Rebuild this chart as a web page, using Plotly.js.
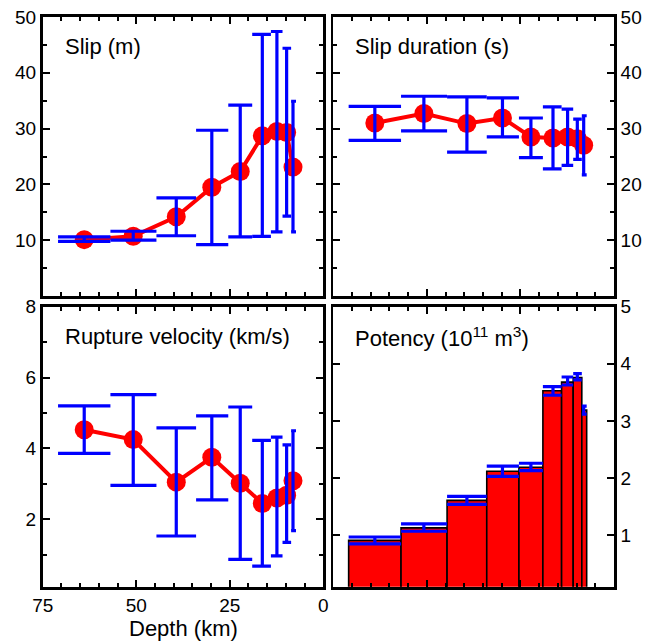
<!DOCTYPE html>
<html>
<head>
<meta charset="utf-8">
<script src="https://cdn.plot.ly/plotly-3.0.1.min.js"></script>
<style>
html,body{margin:0;padding:0;background:#fff;}
#chart{width:648px;height:643px;}
</style>
</head>
<body>
<div id="chart"></div>
<script>
// Depth of each subfault centre (km) and the bin edges (km)
const depthCenters = [63.9, 50.8, 39.3, 29.8, 22.2, 16.3, 12.4, 9.8, 8.1];
const binEdges = [70.9, 56.9, 44.6, 34.0, 25.4, 19.0, 14.0, 10.9, 8.6, 7.3];

// Slip (m)
const slip = [10.1, 10.7, 14.2, 19.5, 22.3, 28.7, 29.5, 29.3, 23.1];
const slipHi = [10.6, 11.6, 17.6, 29.7, 34.2, 46.9, 47.4, 44.4, 34.9];
const slipLo = [9.8, 10.0, 10.8, 9.2, 10.6, 10.7, 11.5, 14.3, 11.5];

// Slip duration (s)
const duration = [31.0, 32.7, 30.9, 31.9, 28.5, 28.3, 28.5, 28.2, 27.0];
const durationHi = [34.0, 35.8, 35.7, 35.5, 31.9, 33.9, 33.5, 31.7, 32.3];
const durationLo = [27.9, 29.6, 25.8, 28.5, 24.8, 22.8, 23.4, 24.5, 21.7];

// Rupture velocity (km/s)
const vr = [4.53, 4.25, 3.05, 3.75, 3.02, 2.45, 2.60, 2.68, 3.09];
const vrHi = [5.20, 5.52, 4.58, 4.92, 5.17, 4.23, 4.32, 4.10, 4.50];
const vrLo = [3.86, 2.96, 1.53, 2.55, 0.87, 0.68, 0.97, 1.35, 1.68];

// Potency (10^11 m^3)
const potency = [0.91, 1.13, 1.61, 2.12, 2.19, 3.53, 3.68, 3.76, 3.19];
const potencyHi = [0.97, 1.20, 1.68, 2.21, 2.26, 3.60, 3.77, 3.83, 3.26];
const potencyLo = [0.85, 1.07, 1.54, 2.03, 2.13, 3.45, 3.63, 3.72, 3.12];

// Tick labels
const depthTicks = [75, 50, 25, 0];
const slipTicks = [10, 20, 30, 40, 50];
const vrTicks = [2, 4, 6, 8];
const potencyTicks = [1, 2, 3, 4, 5];

const RED = '#ff0000';
const BLUE = '#0000ff';
const FONT = 'Liberation Sans, Arial, Helvetica, sans-serif';

// error bars whose caps span each bin
function errorTrace(hi, lo, xa, ya, w) {
  const xs = [], ys = [];
  for (let i = 0; i < hi.length; i++) {
    const a = binEdges[i], b = binEdges[i + 1], c = depthCenters[i];
    xs.push(a, b, null, c, c, null, a, b, null);
    ys.push(hi[i], hi[i], null, hi[i], lo[i], null, lo[i], lo[i], null);
  }
  return {x: xs, y: ys, xaxis: xa, yaxis: ya, type: 'scatter', mode: 'lines',
    line: {color: BLUE, width: w || 3.2}, hoverinfo: 'skip', showlegend: false};
}
function seriesTrace(vals, xa, ya) {
  return {x: depthCenters, y: vals, xaxis: xa, yaxis: ya, type: 'scatter', mode: 'lines+markers',
    line: {color: RED, width: 4}, marker: {color: RED, size: 19}, showlegend: false};
}
const barX = [], barW = [];
for (let i = 0; i < potency.length; i++) {
  barX.push((binEdges[i] + binEdges[i + 1]) / 2);
  barW.push(binEdges[i] - binEdges[i + 1]);
}

const data = [
  seriesTrace(slip, 'x', 'y'),
  errorTrace(slipHi, slipLo, 'x', 'y'),
  seriesTrace(duration, 'x2', 'y2'),
  errorTrace(durationHi, durationLo, 'x2', 'y2'),
  seriesTrace(vr, 'x3', 'y3'),
  errorTrace(vrHi, vrLo, 'x3', 'y3'),
  {x: barX, y: potency, width: barW, xaxis: 'x4', yaxis: 'y4', type: 'bar',
   marker: {color: RED, line: {color: '#000', width: 1.6}}, showlegend: false},
  errorTrace(potencyHi, potencyLo, 'x4', 'y4', 3.2)
];

const W = 648, H = 643;
const xdL = [42.7 / W, 323.3 / W], xdR = [333.3 / W, 614 / W];
const ydT = [(H - 296) / H, (H - 17) / H], ydB = [(H - 586.7) / H, (H - 306.7) / H];

function xax(domain, anchor, labels) {
  return {domain: domain, anchor: anchor, range: [75, 0], autorange: false,
    tickmode: 'array', tickvals: depthTicks, ticktext: depthTicks.map(String),
    showticklabels: labels, ticks: 'inside', ticklen: 7, tickwidth: 2, tickcolor: '#000',
    minor: {dtick: 5, tick0: 0, ticks: 'inside', ticklen: 4, tickwidth: 2, tickcolor: '#000'},
    showline: true, mirror: 'ticks', linewidth: 2.8, linecolor: '#000',
    showgrid: false, zeroline: false,
    tickfont: {family: FONT, size: 19, color: '#000'}};
}
function yax(domain, anchor, range, ticks, minor, side) {
  const o = {domain: domain, anchor: anchor, range: range, autorange: false, side: side,
    tickmode: 'array', tickvals: ticks, ticktext: ticks.map(String),
    ticks: 'inside', ticklen: 7, tickwidth: 2, tickcolor: '#000',
    showline: true, mirror: 'ticks', linewidth: 2.8, linecolor: '#000',
    showgrid: false, zeroline: false,
    tickfont: {family: FONT, size: 19, color: '#000'}};
  if (minor) o.minor = {dtick: minor, tick0: 0, ticks: 'inside', ticklen: 4, tickwidth: 2, tickcolor: '#000'};
  return o;
}
function panelTitle(text, xref, yref) {
  return {text: text, xref: xref + ' domain', yref: yref + ' domain', x: 0.071, y: 0.893,
    xanchor: 'left', yanchor: 'middle', showarrow: false,
    font: {family: FONT, size: 22, color: '#000'}};
}

const layout = {
  width: W, height: H, margin: {l: 0, r: 0, t: 0, b: 0},
  paper_bgcolor: '#fff', plot_bgcolor: '#fff', showlegend: false, bargap: 0,
  xaxis: xax(xdL, 'y', false),
  yaxis: yax(ydT, 'x', [0, 50], slipTicks, 5, 'left'),
  xaxis2: xax(xdR, 'y2', false),
  yaxis2: yax(ydT, 'x2', [0, 50], slipTicks, 5, 'right'),
  xaxis3: xax(xdL, 'y3', true),
  yaxis3: yax(ydB, 'x3', [0.1, 8], vrTicks, 1, 'left'),
  xaxis4: xax(xdR, 'y4', false),
  yaxis4: yax(ydB, 'x4', [0.1, 5], potencyTicks, null, 'right'),
  annotations: [
    panelTitle('Slip (m)', 'x', 'y'),
    panelTitle('Slip duration (s)', 'x2', 'y2'),
    panelTitle('Rupture velocity (km/s)', 'x3', 'y3'),
    panelTitle('Potency (10<sup>11</sup> m<sup>3</sup>)', 'x4', 'y4'),
    {text: 'Depth (km)', xref: 'x3 domain', yref: 'paper', x: 0.5, y: (H - 628) / H,
     xanchor: 'center', yanchor: 'middle', showarrow: false,
     font: {family: FONT, size: 22, color: '#000'}}
  ]
};

Plotly.newPlot('chart', data, layout, {displayModeBar: false, staticPlot: true});
</script>
</body>
</html>
